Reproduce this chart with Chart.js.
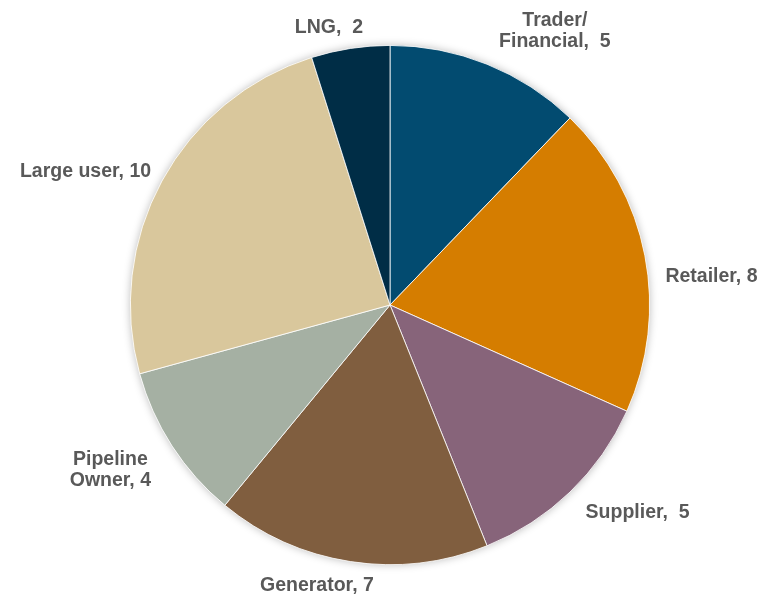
<!DOCTYPE html>
<html>
<head>
<meta charset="utf-8">
<script src="https://cdn.jsdelivr.net/npm/chart.js@4.4.1/dist/chart.umd.min.js"></script>
<style>
  html, body { margin: 0; padding: 0; background: #fff; }
  #wrap { width: 765px; height: 595px; }
</style>
</head>
<body>
<div id="wrap"><canvas id="myChart"></canvas></div>
<script>
// Market participants by type
const categories = ['Trader/\nFinancial', 'Retailer', 'Supplier', 'Generator', 'Pipeline\nOwner', 'Large user', 'LNG'];
const counts = [5, 8, 5, 7, 4, 10, 2];
const sliceColors = ['#024B70', '#D57D00', '#87647A', '#805E3F', '#A5B0A3', '#D9C79C', '#002D46'];

// Label placement: angle (deg, clockwise from top) and distance in units of the pie radius
const labelAngles = [31, 85, 130, 194.6, 239.5, 293.7, 347.6];
const labelDists = [1.233, 1.243, 1.245, 1.117, 1.25, 1.281, 1.095];
const labelSep = [',  ', ', ', ',  ', ', ', ', ', ', ', ',  '];

// Soft grey halo drawn behind the pie
const pieShadow = {
  id: 'pieShadow',
  beforeDatasetsDraw(chart) {
    const arc = chart.getDatasetMeta(0).data[0];
    if (!arc) return;
    const ctx = chart.ctx;
    ctx.save();
    ctx.shadowColor = 'rgba(0,0,0,0.28)';
    ctx.shadowBlur = 9;
    ctx.fillStyle = '#fff';
    ctx.beginPath();
    ctx.arc(arc.x, arc.y, arc.outerRadius, 0, Math.PI * 2);
    ctx.fill();
    ctx.restore();
  }
};

// Category + value text outside each slice
const outsideLabels = {
  id: 'outsideLabels',
  afterDatasetsDraw(chart) {
    const meta = chart.getDatasetMeta(0);
    const ctx = chart.ctx;
    const first = meta.data[0];
    ctx.save();
    ctx.font = 'bold 19.5px "Liberation Sans", Arial, sans-serif';
    ctx.fillStyle = '#595959';
    ctx.textAlign = 'center';
    ctx.textBaseline = 'middle';
    categories.forEach((cat, i) => {
      const a = labelAngles[i] * Math.PI / 180;
      const d = labelDists[i] * first.outerRadius;
      const x = first.x + Math.sin(a) * d;
      const y = first.y - Math.cos(a) * d;
      const lines = (cat + labelSep[i] + counts[i]).split('\n');
      const lh = 21;
      lines.forEach((ln, k) => {
        ctx.fillText(ln, x, y + (k - (lines.length - 1) / 2) * lh);
      });
    });
    ctx.restore();
  }
};

const data = {
  labels: categories,
  datasets: [{
    data: counts,
    backgroundColor: sliceColors,
    borderColor: '#ffffff',
    borderWidth: 0.8
  }]
};

const config = {
  type: 'pie',
  data: data,
  options: {
    responsive: true,
    maintainAspectRatio: false,
    animation: false,
    layout: { padding: { top: 45, bottom: 30, left: 130, right: 115 } },
    plugins: {
      legend: { display: false },
      tooltip: { enabled: false }
    }
  },
  plugins: [pieShadow, outsideLabels]
};

new Chart(document.getElementById('myChart'), config);
</script>
</body>
</html>
